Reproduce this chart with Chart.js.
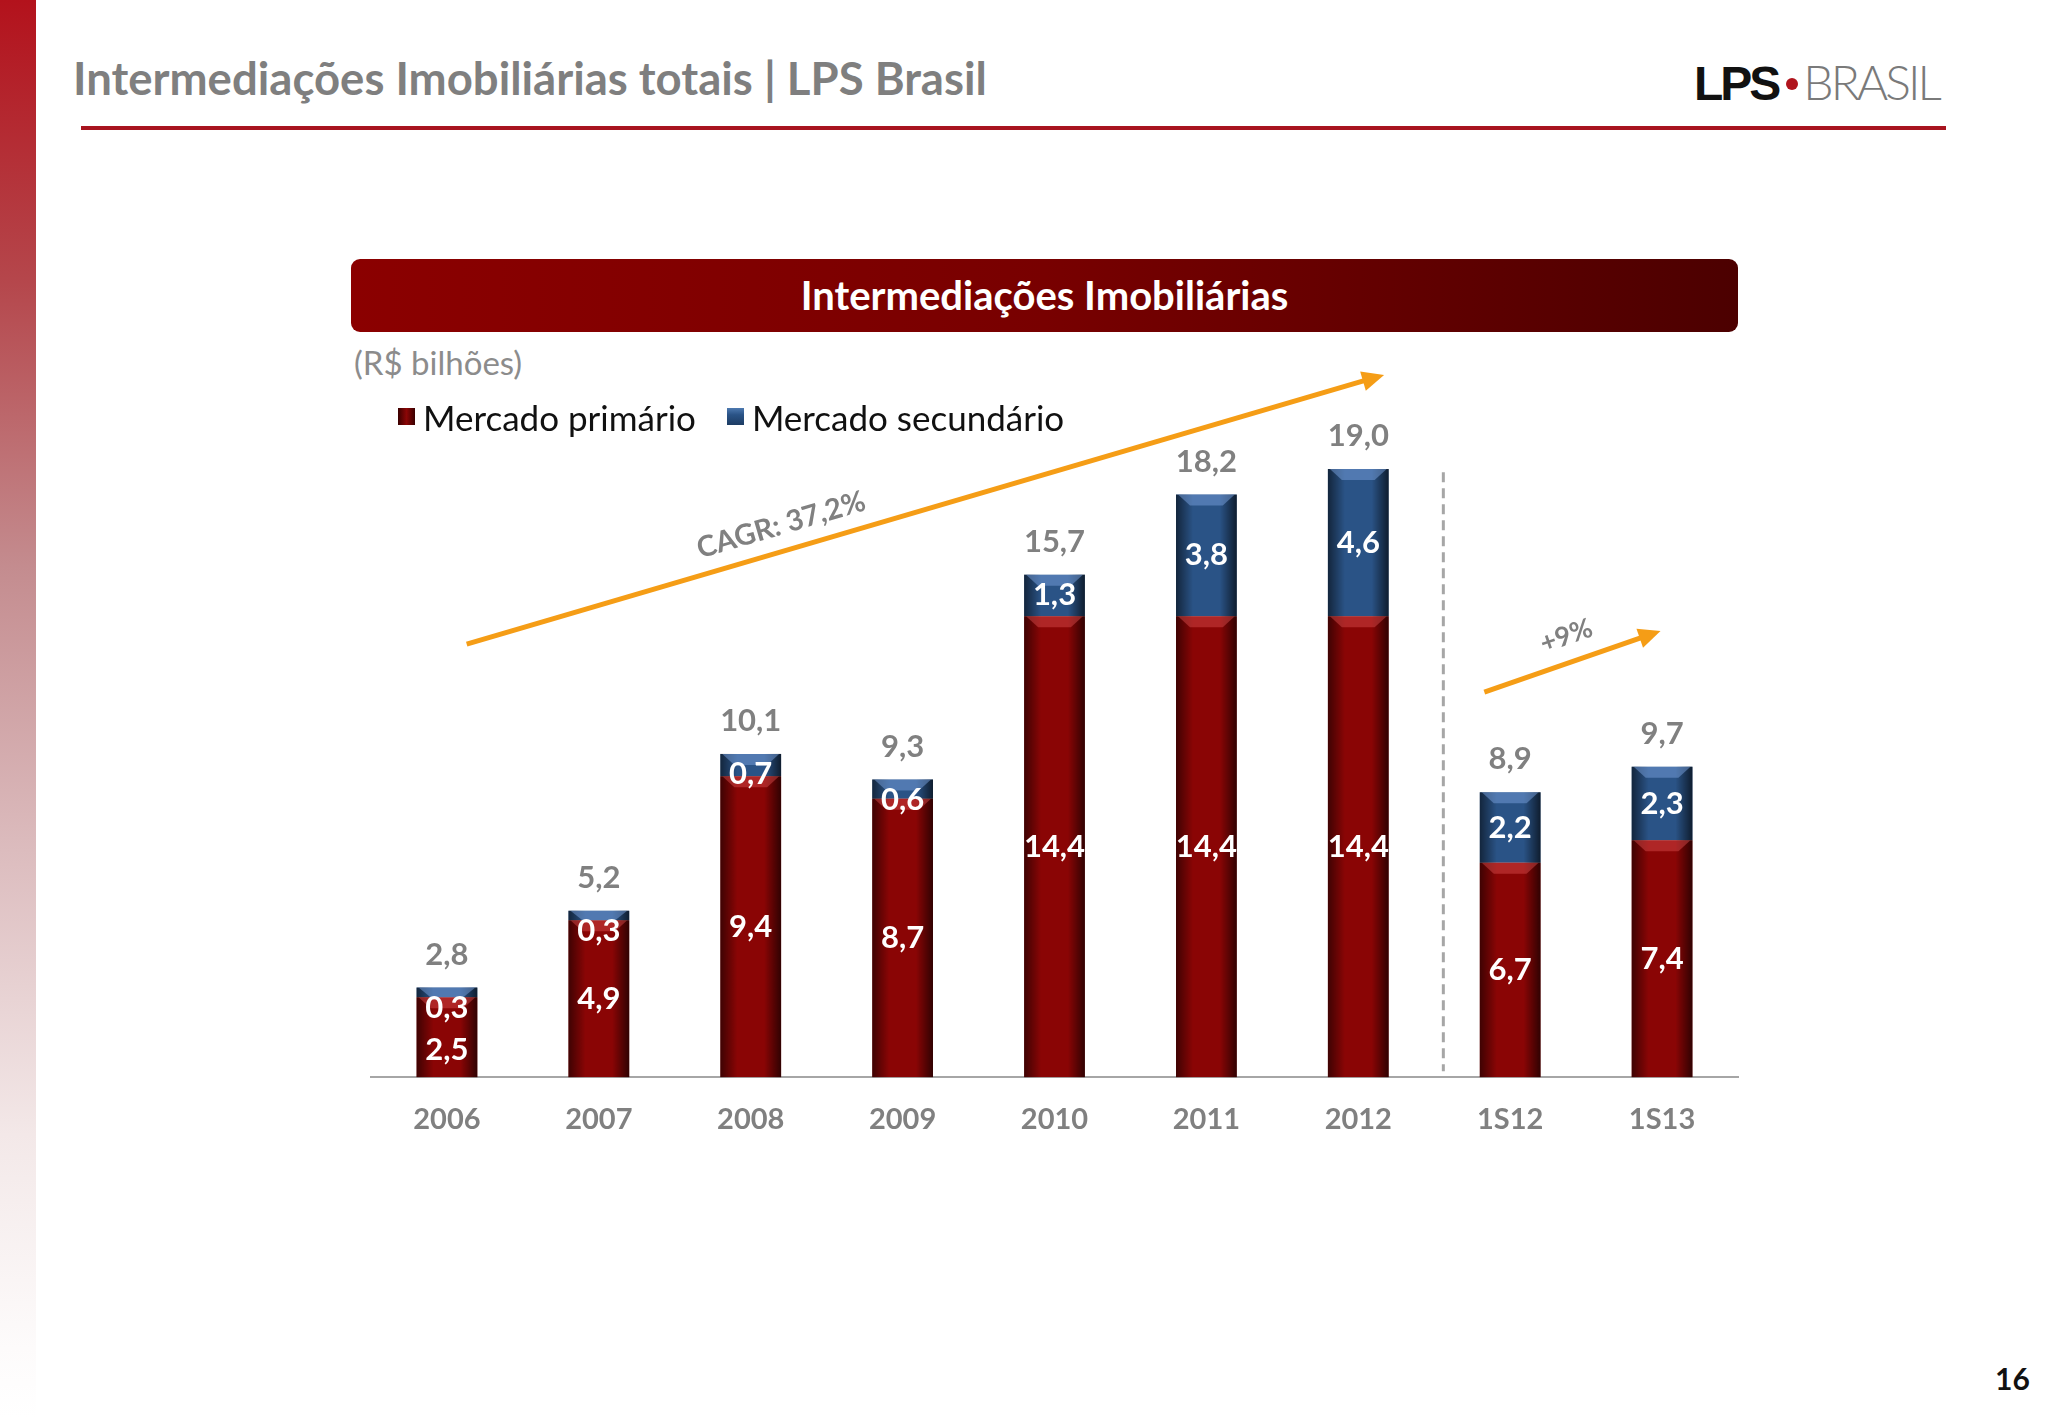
<!DOCTYPE html>
<html lang="pt-br">
<head>
  <meta charset="UTF-8" />
  <title>Intermediações Imobiliárias totais | LPS Brasil</title>
  <script src="https://cdn.jsdelivr.net/npm/chart.js"></script>
  <style>
    body { margin: 0; width: 2048px; height: 1418px; position: relative; overflow: hidden; background: #fff; font-family: Lato, "Open Sans", sans-serif; }
    .faixa { position: absolute; left: 0; top: 0; width: 36px; height: 1418px;
      background: linear-gradient(#b3121c 0%, #b5474c 20%, #c48c8f 40%, #dcbcbe 60%, #f3e8e8 80%, #fdfbfb 95%, #fff 100%); }
    .titulo { position: absolute; left: 73px; top: 50px; font-size: 45.5px; font-weight: 700; color: #7f7f7f; white-space: nowrap; }
    .linha { position: absolute; left: 81px; top: 126px; width: 1865px; height: 4px; background: #a8141f; }
    .logo { position: absolute; left: 1694px; top: 56px; white-space: nowrap; font-family: "Liberation Sans", Arial, sans-serif; font-size: 48px; line-height: 52px; }
    .logo .lps { font-weight: 700; color: #111; letter-spacing: -3px; }
    .logo .ponto { display: inline-block; width: 12px; height: 12px; border-radius: 50%; background: #b0141c; margin: 0 5px 0 8px; vertical-align: middle; position: relative; top: -3px; }
    .logo .brasil { color: #7a7a7a; font-weight: 300; font-family: Lato, sans-serif; letter-spacing: -3px; }
    .cabecalho { position: absolute; left: 351px; top: 259px; width: 1387px; height: 73px; border-radius: 9px;
      background: linear-gradient(90deg, #8b0000 0%, #780000 50%, #4c0000 100%);
      color: #fff; font-size: 40px; font-weight: 700; text-align: center; line-height: 73px; }
    .unidade { position: absolute; left: 354px; top: 342px; font-size: 33px; color: #8c8c8c; }
    .legenda { position: absolute; left: 398px; top: 390px; font-size: 35px; color: #111; white-space: nowrap; z-index: 2; }
    .legenda span { display: inline-flex; align-items: center; margin-right: 22px; }
    .legenda i { display: inline-block; width: 17px; height: 17px; margin-right: 8px; }
    .pagina { position: absolute; left: 1995px; top: 1360px; font-size: 30px; font-weight: 700; color: #111; }
    .grafico-wrapper { position: absolute; left: 351px; top: 340px; width: 1400px; height: 833px; }
  </style>
</head>
<body>
  <div class="faixa"></div>
  <div class="titulo">Intermediações Imobiliárias totais | LPS Brasil</div>
  <div class="linha"></div>
  <div class="logo"><span class="lps">LPS</span><span class="ponto"></span><span class="brasil">BRASIL</span></div>

  <div class="cabecalho">Intermediações Imobiliárias</div>
  <div class="unidade">(R$ bilhões)</div>

  <div class="grafico-wrapper">
    <canvas id="graficoIntermediacoes"></canvas>
  </div>
  <div class="legenda">
    <span><i style="background: linear-gradient(90deg, #3a0000, #8b0606 50%, #3a0000)"></i>Mercado primário</span>
    <span><i style="background: linear-gradient(#4d79b0, #2a5386 40%, #1d3c63)"></i>Mercado secundário</span>
  </div>
  <div class="pagina">16</div>

  <script>
    const categorias = ['2006', '2007', '2008', '2009', '2010', '2011', '2012', '1S12', '1S13'];
    const mercadoPrimario = [2.5, 4.9, 9.4, 8.7, 14.4, 14.4, 14.4, 6.7, 7.4];
    const mercadoSecundario = [0.3, 0.3, 0.7, 0.6, 1.3, 3.8, 4.6, 2.2, 2.3];
    const totais = [2.8, 5.2, 10.1, 9.3, 15.7, 18.2, 19.0, 8.9, 9.7];

    const fmt = v => v.toFixed(1).replace('.', ',');

    // brilho lateral + chanfro no topo de cada barra
    function sombrear(ctx, el, chanfro) {
      const { x, y, base, width } = el.getProps(['x', 'y', 'base', 'width'], true);
      const l = x - width / 2, h = base - y;
      const g = ctx.createLinearGradient(l, 0, l + width, 0);
      g.addColorStop(0, 'rgba(0,0,0,0.55)');
      g.addColorStop(0.28, 'rgba(0,0,0,0)');
      g.addColorStop(0.72, 'rgba(0,0,0,0)');
      g.addColorStop(1, 'rgba(0,0,0,0.65)');
      ctx.fillStyle = g;
      ctx.fillRect(l, y, width, h);
      const d = Math.min(11, h);
      ctx.fillStyle = chanfro;
      ctx.beginPath();
      ctx.moveTo(l + 2, y);
      ctx.lineTo(l + width - 2, y);
      ctx.lineTo(l + width - 14, y + d);
      ctx.lineTo(l + 14, y + d);
      ctx.closePath();
      ctx.fill();
    }

    const rotulos = {
      id: 'rotulos',
      afterDatasetsDraw(chart) {
        const ctx = chart.ctx;
        const m0 = chart.getDatasetMeta(0), m1 = chart.getDatasetMeta(1);
        ctx.save();
        m0.data.forEach(el => sombrear(ctx, el, 'rgba(220,80,80,0.45)'));
        m1.data.forEach(el => sombrear(ctx, el, 'rgba(120,160,220,0.5)'));

        ctx.textAlign = 'center';
        ctx.textBaseline = 'middle';
        ctx.font = 'bold 31px Lato, sans-serif';
        categorias.forEach((c, i) => {
          const b0 = m0.data[i], b1 = m1.data[i];
          const y1 = Math.max((b1.y + b1.base) / 2, b1.y + 20);
          const y0 = Math.max((b0.y + b0.base) / 2, y1 + 42);
          ctx.fillStyle = '#ffffff';
          ctx.fillText(fmt(mercadoSecundario[i]), b1.x, y1);
          ctx.fillText(fmt(mercadoPrimario[i]), b0.x, y0);
          ctx.fillStyle = '#808080';
          ctx.fillText(fmt(totais[i]), b1.x, b1.y - 33);
        });
        ctx.restore();
      }
    };

    function seta(ctx, x1, y1, x2, y2) {
      const a = Math.atan2(y2 - y1, x2 - x1);
      ctx.beginPath();
      ctx.moveTo(x1, y1);
      ctx.lineTo(x2 - 18 * Math.cos(a), y2 - 18 * Math.sin(a));
      ctx.stroke();
      ctx.beginPath();
      ctx.moveTo(x2, y2);
      ctx.lineTo(x2 - 22 * Math.cos(a) + 10 * Math.sin(a), y2 - 22 * Math.sin(a) - 10 * Math.cos(a));
      ctx.lineTo(x2 - 22 * Math.cos(a) - 10 * Math.sin(a), y2 - 22 * Math.sin(a) + 10 * Math.cos(a));
      ctx.closePath();
      ctx.fill();
      return a;
    }

    const anotacoes = {
      id: 'anotacoes',
      afterDraw(chart) {
        const ctx = chart.ctx;
        const sx = chart.scales.x, sy = chart.scales.y;
        ctx.save();
        // separador anual / semestral
        ctx.strokeStyle = '#a6a6a6';
        ctx.lineWidth = 3;
        ctx.setLineDash([10, 6]);
        const xs = sx.getPixelForValue(6.56);
        ctx.beginPath();
        ctx.moveTo(xs, sy.getPixelForValue(18.9));
        ctx.lineTo(xs, sy.getPixelForValue(0) - 6);
        ctx.stroke();
        ctx.setLineDash([]);

        ctx.strokeStyle = '#f59d16';
        ctx.fillStyle = '#f59d16';
        ctx.lineWidth = 5;
        const a1 = seta(ctx, sx.getPixelForValue(0.13), sy.getPixelForValue(13.53),
                        sx.getPixelForValue(6.17), sy.getPixelForValue(21.94));
        const a2 = seta(ctx, sx.getPixelForValue(6.83), sy.getPixelForValue(12.03),
                        sx.getPixelForValue(7.99), sy.getPixelForValue(13.94));

        ctx.fillStyle = '#808080';
        ctx.textAlign = 'center';
        ctx.textBaseline = 'middle';
        ctx.font = 'bold 29px Lato, sans-serif';
        ctx.translate(sx.getPixelForValue(2.2), sy.getPixelForValue(17.25));
        ctx.rotate(a1);
        ctx.fillText('CAGR: 37,2%', 0, 0);
        ctx.restore();

        ctx.save();
        ctx.fillStyle = '#808080';
        ctx.textAlign = 'center';
        ctx.textBaseline = 'middle';
        ctx.font = 'bold 27px Lato, sans-serif';
        ctx.translate(sx.getPixelForValue(7.37), sy.getPixelForValue(13.78));
        ctx.rotate(a2);
        ctx.fillText('+9%', 0, 0);
        ctx.restore();
      }
    };

    const ctx = document.getElementById('graficoIntermediacoes').getContext('2d');
    new Chart(ctx, {
      type: 'bar',
      data: {
        labels: categorias,
        datasets: [
          { label: 'Mercado primário', data: mercadoPrimario, backgroundColor: '#8a0505' },
          { label: 'Mercado secundário', data: mercadoSecundario, backgroundColor: '#2a5386' }
        ]
      },
      options: {
        responsive: true,
        maintainAspectRatio: false,
        animation: false,
        barPercentage: 0.4,
        categoryPercentage: 1.0,
        layout: { padding: { left: 20, right: 13, top: 97, bottom: 11 } },
        plugins: {
          legend: { display: false },
          tooltip: { enabled: false }
        },
        scales: {
          x: {
            stacked: true,
            grid: { display: false, drawTicks: false },
            border: { display: true, color: '#a6a6a6', width: 2 },
            ticks: { color: '#808080', padding: 25, font: { family: 'Lato', size: 29, weight: 'bold' } }
          },
          y: {
            stacked: true,
            display: false,
            min: 0,
            max: 20
          }
        }
      },
      plugins: [rotulos, anotacoes]
    });
  </script>
</body>
</html>
